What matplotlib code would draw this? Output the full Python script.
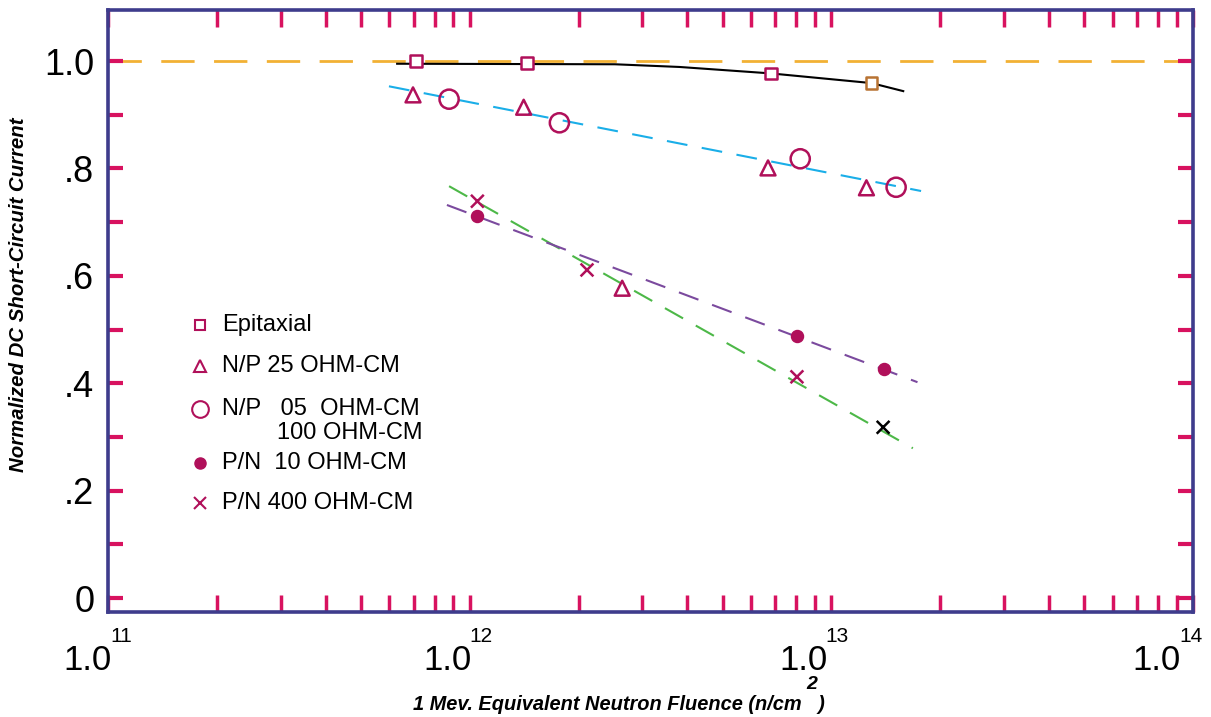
import numpy as np
import matplotlib.pyplot as plt
import matplotlib.transforms as mtransforms
from matplotlib.ticker import FixedLocator, LogLocator, NullFormatter

plt.rcParams['font.family'] = ['Liberation Sans', 'DejaVu Sans']

# data (fluence in n/cm^2, normalized Isc)
epi_x = [7.1e11, 1.44e12, 6.8e12, 1.29e13]
epi_y = [1.0, 0.996, 0.977, 0.959]
epi_cols = ['#B0105A', '#B0105A', '#B0105A', '#B87333']

np25_x = [6.97e11, 1.41e12, 2.64e12, 6.68e12, 1.25e13]
np25_y = [0.937, 0.914, 0.577, 0.801, 0.764]

np05_x = [8.77e11, 1.77e12, 8.2e12, 1.51e13]
np05_y = [0.929, 0.885, 0.818, 0.765]

pn10_x = [1.05e12, 8.03e12, 1.40e13]
pn10_y = [0.711, 0.488, 0.426]

pn400_x = [1.05e12, 2.11e12, 8.03e12, 1.39e13]
pn400_y = [0.739, 0.611, 0.412, 0.318]
pn400_cols = ['#B0105A', '#B0105A', '#B0105A', 'black']

# trend lines
epi_fit_x = [6.3e11, 2.52e12, 3.8e12, 6.8e12, 1.29e13, 1.58e13]
epi_fit_y = [0.995, 0.994, 0.989, 0.977, 0.959, 0.944]
np_fit_x = [5.98e11, 1.77e13]
np_fit_y = [0.953, 0.758]
pn400_fit_x = [8.77e11, 1.68e13]
pn400_fit_y = [0.767, 0.279]
pn10_fit_x = [8.65e11, 1.73e13]
pn10_fit_y = [0.732, 0.402]

legend_labels = ['Epitaxial', 'N/P 25 OHM-CM', 'N/P   05  OHM-CM',
                 'P/N  10 OHM-CM', 'P/N 400 OHM-CM']

decades = [1e11, 1e12, 1e13, 1e14]
decade_exp = ['11', '12', '13', '14']
y_ticks = [0, 0.1, 0.2, 0.3, 0.4, 0.5, 0.6, 0.7, 0.8, 0.9, 1.0]
y_labels = ['0', '', '.2', '', '.4', '', '.6', '', '.8', '', '1.0']

MAG = '#B0105A'
TICK = '#D8125F'
NAVY = '#3E3C8C'

fig = plt.figure(figsize=(12.11, 7.17), dpi=100)
ax = fig.add_axes([0.0892, 0.1464, 0.896, 0.8396])
ax.set_xscale('log')
ax.set_xlim(1e11, 1e14)
ax.set_ylim(-0.026, 1.095)

# reference line at 1.0
ax.axhline(1.0, color='#F2B134', lw=2, dashes=(12, 7), zorder=1)

ax.plot(epi_fit_x, epi_fit_y, color='black', lw=1.5, zorder=2)
ax.plot(np_fit_x, np_fit_y, color='#1AAEE8', lw=1.5, dashes=(10, 7), zorder=2)
ax.plot(pn400_fit_x, pn400_fit_y, color='#4DB848', lw=1.5, dashes=(10, 7), zorder=2)
ax.plot(pn10_fit_x, pn10_fit_y, color='#7B4A9E', lw=1.5, dashes=(10, 7), zorder=2)

ax.scatter(epi_x, epi_y, marker='s', s=70, facecolor='white',
           edgecolor=epi_cols, linewidth=1.8, zorder=3)
ax.scatter(np25_x, np25_y, marker='^', s=115, facecolor='none',
           edgecolor=MAG, linewidth=1.8, zorder=3)
ax.scatter(np05_x, np05_y, marker='o', s=190, facecolor='none',
           edgecolor=MAG, linewidth=1.8, zorder=3)
ax.scatter(pn10_x, pn10_y, marker='o', s=75, color=MAG, zorder=3)
ax.scatter(pn400_x, pn400_y, marker='x', s=85, color=pn400_cols,
           linewidth=1.8, zorder=3)

# hand-placed legend
leg_y = [0.477, 0.409, 0.337, 0.2475, 0.181]
leg_m = [dict(marker='s', ms=7, mfc='white', mec=MAG, mew=1.5),
         dict(marker='^', ms=9, mfc='none', mec=MAG, mew=1.5),
         dict(marker='o', ms=12, mfc='none', mec=MAG, mew=1.5),
         dict(marker='o', ms=8, mfc=MAG, mec=MAG),
         dict(marker='x', ms=8, mec=MAG, mew=1.5)]
for yy, lab, mk in zip(leg_y, legend_labels, leg_m):
    ax.plot([0.0848], [yy], transform=ax.transAxes, ls='none', **mk)
    ax.text(0.105, yy, lab, transform=ax.transAxes, fontsize=17,
            va='center', ha='left')
ax.text(0.290, 0.297, '100 OHM-CM', transform=ax.transAxes, fontsize=17,
        va='center', ha='right')

# axes frame and ticks
for sp in ax.spines.values():
    sp.set_color(NAVY)
    sp.set_linewidth(2.6)

ax.xaxis.set_major_locator(FixedLocator(decades))
ax.xaxis.set_major_formatter(NullFormatter())
ax.xaxis.set_minor_locator(LogLocator(base=10, subs=np.arange(2, 10)))
ax.xaxis.set_minor_formatter(NullFormatter())
ax.set_yticks(y_ticks)
ax.set_yticklabels(y_labels)

ax.tick_params(axis='both', which='both', direction='in', color=TICK,
               top=True, right=True)
ax.tick_params(axis='x', which='both', length=12, width=2.5)
ax.tick_params(axis='y', which='major', length=11, width=3, pad=10,
               labelsize=26)

# decade labels: "1.0" with the exponent set up and to the right
# (the original is hand lettered, so each label sits a little differently)
label_shift = [4, 2, -4, -12]   # pixels
xtrans = mtransforms.blended_transform_factory(ax.transData, ax.transAxes)
for xv, ex, dx in zip(decades, decade_exp, label_shift):
    base_t = xtrans + mtransforms.ScaledTranslation(dx / 100, -58 / 100,
                                                    fig.dpi_scale_trans)
    ax.text(xv, 0, '1.0', transform=base_t, fontsize=25, ha='right',
            va='baseline', clip_on=False)
    exp_t = xtrans + mtransforms.ScaledTranslation((dx - 2) / 100, -15 / 100,
                                                   fig.dpi_scale_trans)
    ax.text(xv, 0, ex, transform=exp_t, fontsize=15, ha='left',
            va='top', clip_on=False)

fig.text(0.015, 0.589, 'Normalized DC Short-Circuit Current', rotation=90,
         fontsize=14.7, fontweight='bold', fontstyle='italic',
         ha='center', va='center')
fig.text(0.511, 0.004, '1 Mev. Equivalent Neutron Fluence (n/cm   )',
         fontsize=14.4, fontweight='bold', fontstyle='italic',
         ha='center', va='bottom')
fig.text(0.670, 0.045, '2', fontsize=14, fontweight='bold',
         fontstyle='italic', ha='center', va='center')

fig.savefig('out.png', dpi=100)
